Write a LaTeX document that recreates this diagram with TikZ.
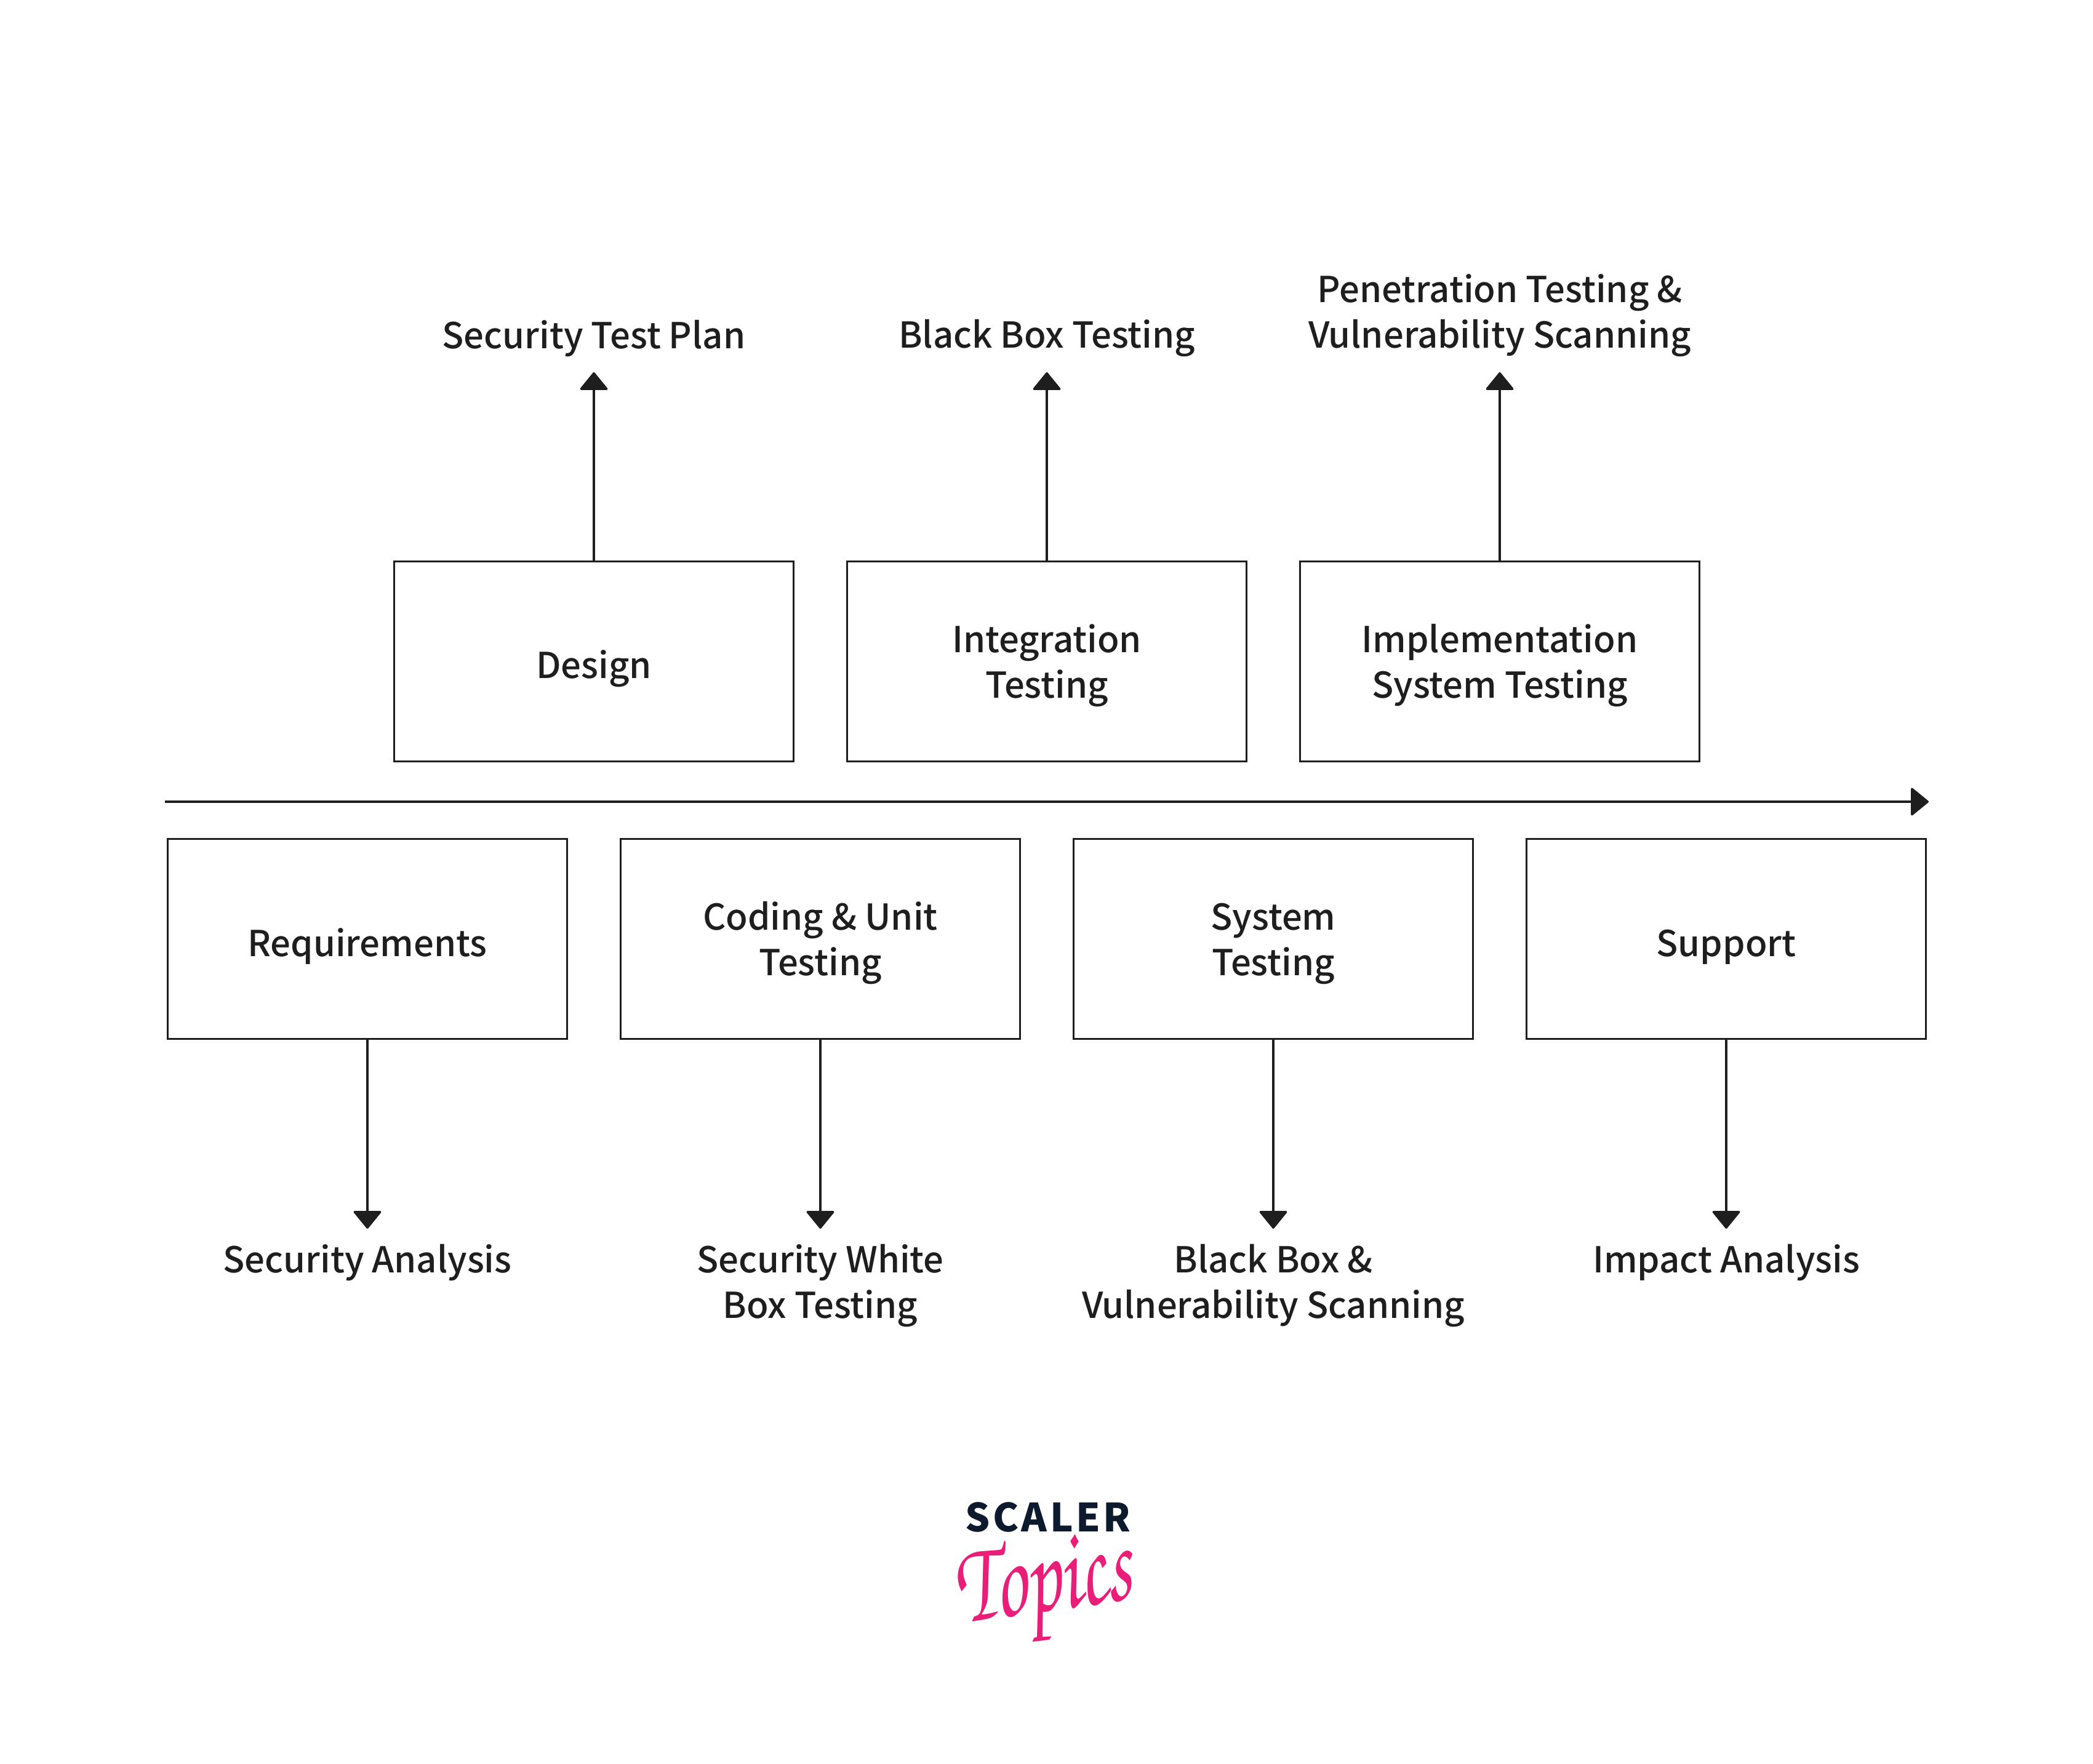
\documentclass[tikz,border=0pt]{standalone}
\usepackage{fontspec}
\setmainfont{Noto Sans CJK SC}[UprightFont=* Medium,BoldFont=* Black]
\usepackage{xcolor}
\usetikzlibrary{arrows.meta,positioning}
\definecolor{inkblack}{HTML}{1E1E1E}
\definecolor{logonavy}{HTML}{0D1A2E}
\definecolor{logopink}{HTML}{E91E78}
\newcommand{\toplift}[1][0.68cm]{\rule{0pt}{#1}}

\begin{document}
\begin{tikzpicture}[
  node distance=3.065cm and 0.84cm,
  phase/.style={draw=inkblack, line width=0.03cm, align=center, minimum width=6.49cm,
    minimum height=3.25cm, inner sep=0pt, text=inkblack, font=\fontsize{16.5}{21}\selectfont},
  result/.style={align=center, inner sep=0pt, outer sep=0.255cm, text=inkblack,
    font=\fontsize{16.5}{21}\selectfont},
  arr/.style={-{Triangle[length=0.3cm,width=0.48cm,round]}, draw=inkblack, fill=inkblack, line width=0.035cm}
]
\useasboundingbox (0,0) rectangle (34.01,28.67);
\node[phase] (req) at (5.97,13.405) {\toplift Requirements};
\node[phase, right=of req] (coding) {\toplift[0.59cm]Coding \& Unit\\Testing};
\node[phase, right=of coding] (system) {\toplift[0.59cm]System\\Testing};
\node[phase, right=of system] (support) {\toplift Support};
\node[phase] (design) at (9.65,17.915) {\toplift Design};
\node[phase, right=of design] (integration) {\toplift[0.59cm]Integration\\Testing};
\node[phase, right=of integration] (implementation) {\toplift[0.59cm]Implementation\\System Testing};
\node[result, above=of design] (testplan) {Security Test Plan};
\node[result, above=of integration] (blackbox) {Black Box Testing};
\node[result, above=of implementation] (pentest) {Penetration Testing \&\\Vulnerability Scanning};
\node[result, below=of req] (analysis) {Security Analysis};
\node[result, below=of coding] (whitebox) {Security White\\Box Testing};
\node[result, below=of system] (vulnscan) {Black Box \&\\Vulnerability Scanning};
\node[result, below=of support] (impact) {Impact Analysis};
\coordinate (tstart) at (2.68,15.64);
\coordinate (tend) at (31.34,15.64);
\draw[arr] (tstart) -- (tend);
\draw[arr] (design) -- (testplan);
\draw[arr] (integration) -- (blackbox);
\draw[arr] (implementation) -- (pentest);
\draw[arr] (req) -- (analysis);
\draw[arr] (coding) -- (whitebox);
\draw[arr] (system) -- (vulnscan);
\draw[arr] (support) -- (impact);
% logo
\node[text=logonavy, inner sep=0pt, font=\fontsize{18}{18}\bfseries\selectfont] (scaler) at (17.03,4.01) {\addfontfeature{LetterSpace=7}SCALER};
\node[text=logopink, inner sep=0pt, rotate=8, xscale=0.68, transform shape, font=\fontencoding{T1}\fontfamily{pzc}\fontseries{mb}\fontshape{it}\fontsize{54}{54}\selectfont] (topics) at (16.97,2.82) {Topics};
\end{tikzpicture}
\end{document}
